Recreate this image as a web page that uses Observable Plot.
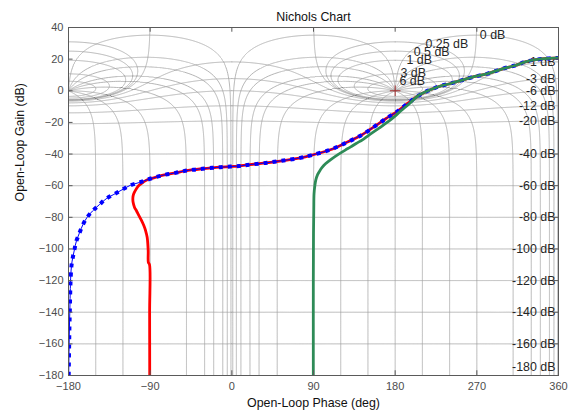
<!DOCTYPE html>
<html><head><meta charset="utf-8">
<script src="https://cdn.jsdelivr.net/npm/d3@7"></script>
<script src="https://cdn.jsdelivr.net/npm/@observablehq/plot@0.6"></script>
<style>
body{margin:0;background:#fff;}
</style></head><body><div id="chart"></div>
<script>
const title = "Nichols Chart";
const xLabel = "Open-Loop Phase (deg)";
const yLabel = "Open-Loop Gain (dB)";
const phaseTicks = [-180, -90, 0, 90, 180, 270, 360];
const gainTicks = [-180, -160, -140, -120, -100, -80, -60, -40, -20, 0, 20, 40];

// Nichols grid definition: critical points, closed-loop gain (M) and phase (N) contours
const criticalPhases = [-180, 180];
const mValuesDb = [6, 3, 1, 0.5, 0.25, 0, -1, -3, -6, -12, -20, -40, -60, -80, -100, -120, -140, -160, -180];
const nValuesDeg = [-1, -5, -10, -20, -30, -50, -90, -120, -150, -180, -210, -240, -270, -310, -330, -340, -350, -355, -359];

// grid labels
const posLabels = ["6 dB", "3 dB", "1 dB", "0.5 dB", "0.25 dB", "0 dB"];
const posLabelPhase = [184.8, 185.9, 192.5, 200.5, 213.4, 273.3];
const posLabelGain = [6.1, 11.1, 19.2, 24.8, 29.3, 35];
const negLabelDb = [-1, -3, -6, -12, -20, -40, -60, -80, -100, -120, -140, -160, -180];

// shared upper part of the response (red & blue coincide)
const upperPhase = [-92.5, -82, -73, -62, -53, -42.5, -32.5, -21.5, -12.5, -1.5, 8, 17, 37, 57, 75.5, 88.5, 108.5, 125, 143.5, 160, 170, 180, 186, 195, 205, 218, 230, 241, 252, 265, 281, 298, 311, 323.5, 333, 345, 355, 360];
const upperGain  = [-56.1, -54.3, -53, -51.9, -50.8, -49.9, -49.3, -48.7, -48.3, -47.9, -47.6, -46.9, -45.6, -44.1, -42.4, -40.6, -37.3, -33.1, -27.8, -21.5, -17.5, -14, -11.5, -7.5, -3.3, 0.5, 3, 4.6, 6.4, 8.6, 10.7, 13.9, 15.8, 18.3, 19.5, 20.3, 20.7, 20.8];

// blue (dotted) low-frequency branch
const blueLowPhase = [-179.8, -179.4, -179, -178.5, -178, -177.5, -176.6, -175.3, -173.5, -171.3, -168, -164, -159.5, -153.5, -146, -138.5, -130, -121, -112, -102];
const blueLowGain  = [-180, -165, -150, -138, -125, -117, -110, -105.5, -100.5, -95, -90, -84.5, -80, -76, -72, -68.3, -65.5, -62.6, -59.8, -58];

// red (solid) low-frequency branch
const redLowPhase = [-90.5, -90.6, -90.7, -92, -92.2, -93.3, -95, -97, -100, -102.5, -105, -107.3, -108.8, -109.1, -108.6, -107.3, -105, -102.5, -99, -95];
const redLowGain  = [-180, -140, -110, -108.5, -101, -92.6, -88.5, -85.2, -81.5, -78.8, -76, -73.6, -70.5, -68.3, -66, -64.1, -61.8, -59.9, -58.3, -56.8];

// green (solid) low-frequency branch
const greenLowPhase = [89.8, 89.8, 90, 90.3, 90.6, 91.5, 92.5, 94.5, 96.5, 99.5, 103.2, 109, 116.5, 125, 131, 137, 144, 150, 157, 164, 171, 178.5, 186, 195];
const greenLowGain  = [-180, -120, -90, -75, -65, -60, -56.5, -53, -51, -48.5, -46.2, -43.5, -40.5, -37.5, -35.5, -33.3, -31, -28.5, -25.7, -23, -20, -16.7, -12.8, -8.5];

// ---- build tables ----
const toRows = (ph, g) => ph.map((p, i) => ({phase: p, gain: g[i]}));
const upper = toRows(upperPhase, upperGain);
const blue = toRows(blueLowPhase, blueLowGain).concat(upper);
const red = toRows(redLowPhase, redLowGain).concat(upper);
const green = toRows(greenLowPhase, greenLowGain).concat(upper.filter(d => d.phase >= 204));

// Nichols grid contours
const gridPts = [];
let cid = 0;
const deg = Math.PI / 180;
for (const c of criticalPhases) {
  const shift = c + 180;
  for (const mdb of mValuesDb) {
    const m = Math.pow(10, mdb / 20);
    cid++;
    const N = 1400;
    for (let i = 0; i <= N; i++) {
      if (mdb === 0 && (i === 0 || i === N)) continue;
      const u = i / N;
      const th = -180 * (1 - Math.cos(Math.PI * u));
      const t = th * deg;
      const tr = m * Math.cos(t), ti = m * Math.sin(t);
      const dr = 1 - tr, di = -ti;
      const den = dr * dr + di * di;
      const gr = (tr * dr + ti * di) / den, gi = (ti * dr - tr * di) / den;
      const mag = Math.hypot(gr, gi);
      let ph;
      if (m < 1) ph = th - Math.atan2(di, dr) / deg;
      else { ph = Math.atan2(gi, gr) / deg; if (ph > 0) ph -= 360; }
      gridPts.push({id: cid, phase: ph + shift, gain: 20 * Math.log10(mag)});
    }
  }
  for (const phi of nValuesDeg) {
    cid++;
    const p = phi * deg;
    const ss = [];
    for (let i = 0; i <= 1200; i++) ss.push(-9.7 + 14.7 * i / 1200);
    const a = Math.log10(0.85), b = Math.log10(1.18);
    for (let i = 0; i <= 1500; i++) ss.push(a + (b - a) * i / 1500);
    ss.sort((x, y) => x - y);
    for (const s of ss) {
      const r = Math.pow(10, s);
      const tr = r * Math.cos(p), ti = r * Math.sin(p);
      const dr = 1 - tr, di = -ti;
      const ph = phi - Math.atan2(di, dr) / deg;
      const gain = 20 * s - 20 * Math.log10(Math.hypot(dr, di));
      gridPts.push({id: cid, phase: ph + shift, gain});
    }
  }
}

const negLabels = negLabelDb.map(d => {
  const m = Math.pow(10, d / 20);
  return {text: d + " dB", phase: 360, gain: Math.max(20 * Math.log10(m / (1 - m)), -174.7)};
});
const posLabelRows = posLabels.map((t, i) => ({text: t, phase: posLabelPhase[i], gain: posLabelGain[i]}));

const FS = 12.4;
const chart = Plot.plot({
  width: 571,
  height: 416,
  marginLeft: 68,
  marginRight: 13,
  marginTop: 27,
  marginBottom: 41,
  style: {fontFamily: "'Liberation Sans', Arial, sans-serif", fontSize: "11px", background: "#fff"},
  x: {domain: [-180, 360], ticks: phaseTicks},
  y: {domain: [-180, 40], ticks: gainTicks},
  marks: [
    Plot.line(gridPts, {x: "phase", y: "gain", z: "id", stroke: "#a2a2a2", strokeWidth: 0.8, clip: true}),
    Plot.text(negLabels, {x: "phase", y: "gain", text: "text", textAnchor: "end", dx: -3, fontSize: FS, fill: "#262626"}),
    Plot.text(posLabelRows, {x: "phase", y: "gain", text: "text", textAnchor: "start", fontSize: FS, fill: "#262626"}),
    Plot.dot([{phase: 180, gain: 0}], {x: "phase", y: "gain", symbol: "plus", r: 3.5, stroke: "#a83232", strokeWidth: 1}),
    Plot.line(red, {x: "phase", y: "gain", stroke: "#ff0000", strokeWidth: 2.8, curve: "catmull-rom", clip: true}),
    Plot.line(blue, {x: "phase", y: "gain", stroke: "#0000ff", strokeWidth: 1, curve: "catmull-rom", clip: true}),
    Plot.line(blue, {x: "phase", y: "gain", stroke: "#0000ff", strokeWidth: 4, strokeDasharray: "4,5", strokeLinecap: "butt", curve: "catmull-rom", clip: true}),
    Plot.line(green, {x: "phase", y: "gain", stroke: "#2e8b57", strokeWidth: 2.8, curve: "catmull-rom", clip: true}),
    Plot.frame({stroke: "#5a5a5a", strokeWidth: 1}),
    Plot.ruleX(phaseTicks, {x: d => d, y1: -180, y2: -177, stroke: "#5a5a5a"}),
    Plot.ruleX(phaseTicks, {x: d => d, y1: 40, y2: 37, stroke: "#5a5a5a"}),
    Plot.ruleY(gainTicks, {y: d => d, x1: -180, x2: -175, stroke: "#5a5a5a"}),
    Plot.ruleY(gainTicks, {y: d => d, x1: 360, x2: 355, stroke: "#5a5a5a"}),
    Plot.axisX({ticks: phaseTicks, tickSize: 0, tickPadding: 7, label: null, color: "#4d4d4d", fontSize: 11}),
    Plot.axisY({ticks: gainTicks, tickSize: 0, tickPadding: 5, label: null, color: "#4d4d4d", fontSize: 11}),
    Plot.text([title], {frameAnchor: "top", dy: -15, text: d => d, fontSize: FS, fill: "#111"}),
    Plot.text([xLabel], {frameAnchor: "bottom", dy: 31, text: d => d, fontSize: FS, fill: "#111"}),
    Plot.text([yLabel], {frameAnchor: "left", dx: -48, rotate: -90, text: d => d, fontSize: FS, fill: "#111"})
  ]
});
document.getElementById("chart").appendChild(chart);
</script>
</body></html>
